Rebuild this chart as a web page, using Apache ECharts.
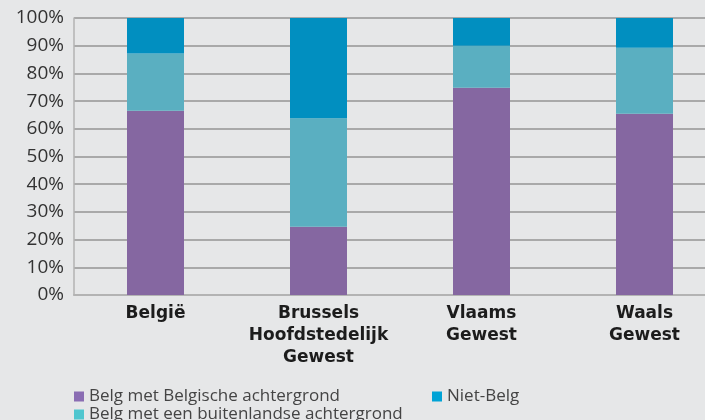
<!DOCTYPE html>
<html>
<head>
<meta charset="utf-8">
<script src="https://cdn.jsdelivr.net/npm/echarts@6/dist/echarts.min.js"></script>
<style>
  html, body { margin: 0; padding: 0; background: #e6e7e8; overflow: hidden; }
  #chart { width: 726px; height: 420px; }
</style>
</head>
<body>
<div id="chart"></div>
<script>
const categories = ['België', 'Brussels\nHoofdstedelijk\nGewest', 'Vlaams\nGewest', 'Waals\nGewest']
const belgBelgisch = [66.5, 24.6, 74.8, 65.4]
const belgBuitenlands = [20.7, 39.2, 15.2, 23.9]
const nietBelg = [12.8, 36.2, 10.0, 10.7]
const yTicks = ['0%', '10%', '20%', '30%', '40%', '50%', '60%', '70%', '80%', '90%', '100%']

const bg = '#e6e7e8'
const font = 'Open Sans'

// chart is a bit wider than the window so the plot runs off the right edge
const chart = echarts.init(document.getElementById('chart'))

const legendText = { fontFamily: font, fontSize: 17, color: '#444' }

chart.setOption({
    backgroundColor: bg,
    animation: false,
    grid: { left: 74, right: 0, top: 18, bottom: 125, containLabel: false },
    legend: [
        {
            left: 69, top: 383, itemWidth: 10, itemHeight: 10, itemGap: 92,
            icon: 'rect', z: 200, textStyle: legendText,
            data: [
                { name: 'Belg met Belgische achtergrond', itemStyle: { color: '#8a6db3' } },
                { name: 'Niet-Belg', itemStyle: { color: '#00a3d6' } }
            ]
        },
        {
            left: 69, top: 401, itemWidth: 10, itemHeight: 10,
            icon: 'rect', z: 200, textStyle: legendText,
            data: [
                { name: 'Belg met een buitenlandse achtergrond', itemStyle: { color: '#4fc6cf' } }
            ]
        }
    ],
    // the bottom of the axis labels is hidden behind the legend band, as in the original
    graphic: [{
        type: 'rect', z: 100, silent: true,
        shape: { x: 0, y: 362, width: 726, height: 58 },
        style: { fill: bg }
    }],
    xAxis: {
        type: 'category',
        data: categories,
        axisLine: { lineStyle: { color: '#b3b3b3', width: 2 } },
        axisTick: { show: false },
        axisLabel: {
            interval: 0, hideOverlap: false,
            margin: 8, fontFamily: 'DejaVu Sans', fontWeight: 'bold', fontSize: 17,
            color: '#1c1c1c', lineHeight: 22, verticalAlign: 'top'
        }
    },
    yAxis: {
        type: 'value', min: 0, max: 100, interval: 10,
        axisLine: { show: true, lineStyle: { color: '#b3b3b3', width: 1.5 } },
        axisTick: { show: false },
        splitLine: { lineStyle: { color: '#a9a9a9', width: 2 } },
        axisLabel: {
            margin: 10, fontFamily: font, fontSize: 19, color: '#333',
            formatter: v => yTicks[Math.round(v / 10)]
        }
    },
    series: [
        { name: 'Belg met Belgische achtergrond', type: 'bar', stack: 'tot', barWidth: 57,
          itemStyle: { color: '#8567a1' }, data: belgBelgisch },
        { name: 'Belg met een buitenlandse achtergrond', type: 'bar', stack: 'tot', barWidth: 57,
          itemStyle: { color: '#5aafc1' }, data: belgBuitenlands },
        { name: 'Niet-Belg', type: 'bar', stack: 'tot', barWidth: 57,
          itemStyle: { color: '#018fc0' }, data: nietBelg }
    ]
})
</script>
</body>
</html>
